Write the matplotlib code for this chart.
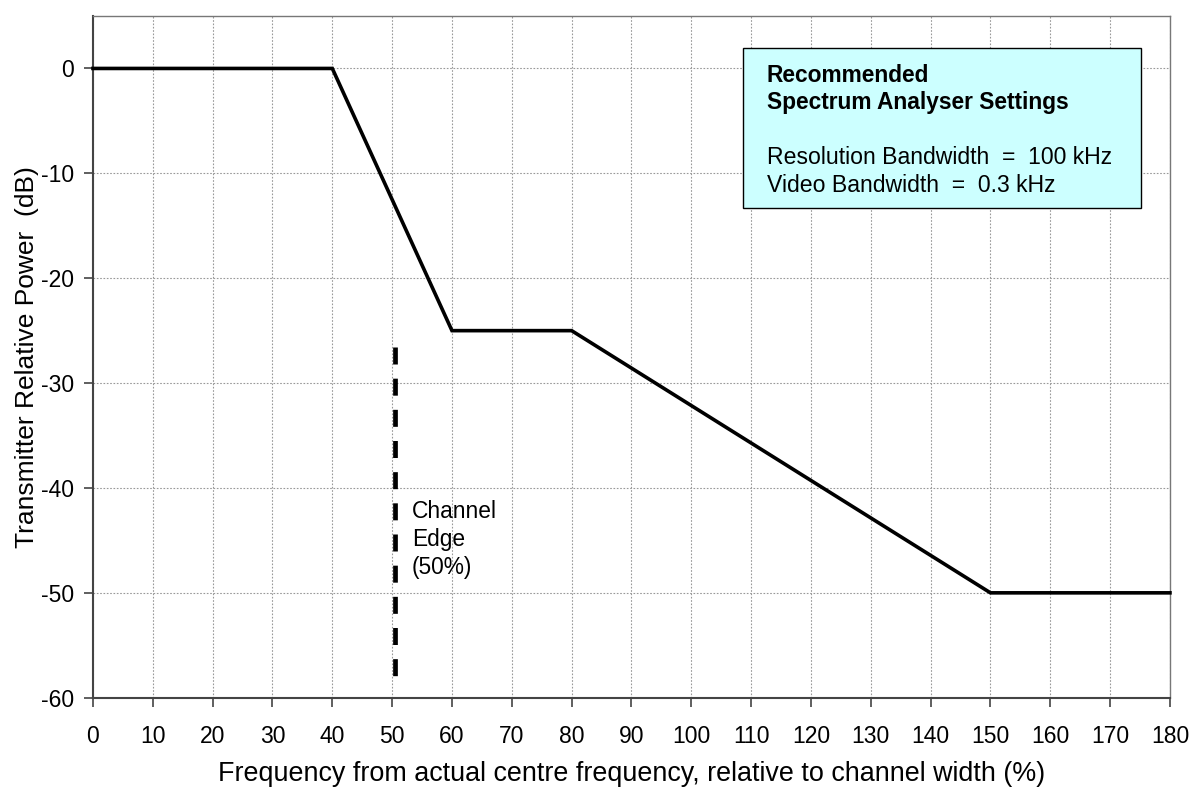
import matplotlib.pyplot as plt
from matplotlib.patches import Rectangle

plt.rcParams['font.family'] = ['Liberation Sans', 'DejaVu Sans']
plt.rcParams['axes.unicode_minus'] = False

# mask points (frequency %, relative power dB)
freq = [0, 40, 60, 80, 150, 180]
power = [0, 0, -25, -25, -50, -50]

# channel edge marker
edge_x = [50.5, 50.5]
edge_y = [-26.6, -58.2]

edge_lines = ['Channel', 'Edge', '(50%)']
box_title = ['Recommended', 'Spectrum Analyser Settings']
box_lines = ['Resolution Bandwidth  =  100 kHz', 'Video Bandwidth  =  0.3 kHz']

xticks = list(range(0, 181, 10))
yticks = list(range(-60, 1, 10))

fig = plt.figure(figsize=(11.92, 7.89), dpi=100)
ax = fig.add_axes([0.078, 0.1157, 0.9035, 0.864])

ax.plot(freq, power, color='black', lw=2.6, solid_capstyle='projecting',
        solid_joinstyle='miter', clip_on=False, zorder=4)
ax.plot(edge_x, edge_y, color='black', lw=3.4, dashes=(3.6, 3.0),
        dash_capstyle='butt', zorder=4)

# label next to channel edge, one line at a time
for i, s in enumerate(edge_lines):
    ax.text(53.3, -42.2 - 2.7 * i, s, fontsize=16.4, va='center', ha='left', zorder=5)

# settings box
box = Rectangle((0.6035, 0.718), 0.3695, 0.235, transform=ax.transAxes,
                facecolor='#ccffff', edgecolor='black', lw=1.0, zorder=5)
ax.add_patch(box)
for i, s in enumerate(box_title):
    ax.text(112.6, -0.67 - 2.6 * i, s, fontsize=16.4, fontweight='bold',
            va='center', ha='left', zorder=6)
for i, s in enumerate(box_lines):
    ax.text(112.6, -8.5 - 2.65 * i, s, fontsize=16.6, va='center', ha='left', zorder=6)

ax.set_xlim(0, 180)
ax.set_ylim(-60, 5)
ax.set_xticks(xticks)
ax.set_yticks(yticks)
ax.tick_params(axis='both', labelsize=16.5, length=6.5, width=1.2, color='#444444',
               direction='out')
ax.tick_params(axis='x', pad=13)
ax.tick_params(axis='y', pad=7)
ax.grid(True, color='#999999', linestyle=(0, (1.5, 1.5)), lw=0.8)
ax.set_axisbelow(True)

for side in ['left', 'bottom']:
    ax.spines[side].set_color('#444444')
    ax.spines[side].set_linewidth(1.5)
for side in ['top', 'right']:
    ax.spines[side].set_color('#777777')
    ax.spines[side].set_linewidth(1.0)

ax.set_xlabel('Frequency from actual centre frequency, relative to channel width (%)',
              fontsize=19.4)
ax.set_ylabel('Transmitter Relative Power  (dB)', fontsize=19)
ax.xaxis.set_label_coords(0.5, -0.093)
ax.yaxis.set_label_coords(-0.050, 0.5)

fig.savefig('out.png', dpi=100)
